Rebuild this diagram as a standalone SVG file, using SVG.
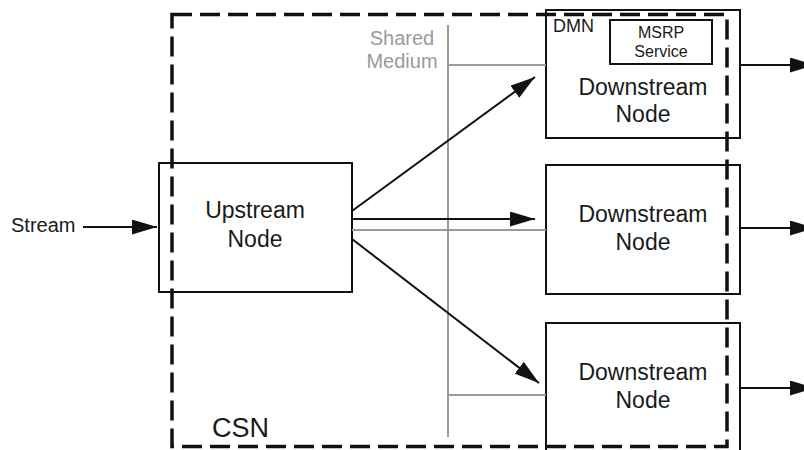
<svg xmlns="http://www.w3.org/2000/svg" width="804" height="450" viewBox="0 0 804 450">
  <style>
    text { font-family: "Liberation Sans", Arial, sans-serif; fill: #1a1a1a; }
    .box { fill: none; stroke: #111; stroke-width: 2; }
    .lbl { font-size: 23px; text-anchor: middle; }
    .grey { stroke: #9a9a9a; stroke-width: 2; fill: none; }
    .greytxt { fill: #9a9a9a; font-size: 20px; text-anchor: middle; }
    .arrow { stroke: #111; stroke-width: 2; fill: none; marker-end: url(#ah); }
    .csn { fill: none; stroke: #111; stroke-width: 3.5; stroke-dasharray: 20 8; }
  </style>
  <defs>
    <marker id="ah" markerUnits="userSpaceOnUse" markerWidth="25" markerHeight="15" refX="25" refY="7.5" orient="auto" viewBox="0 0 25 15">
      <path d="M0,0 L25,7.5 L0,15 z" fill="#111"/>
    </marker>
  </defs>

  <g id="shared-medium">
    <line class="grey" x1="448" y1="25" x2="448" y2="437"/>
    <text class="greytxt" x="402" y="45">Shared</text>
    <text class="greytxt" x="402" y="68">Medium</text>
  </g>

  <g id="stream">
    <text x="11" y="232" font-size="20">Stream</text>
  </g>

  <g id="upstream">
    <rect class="box" x="159" y="163" width="193" height="129"/>
    <text class="lbl" x="255" y="218">Upstream</text>
    <text class="lbl" x="255" y="247">Node</text>
  </g>

  <g id="dmn">
    <rect class="box" x="546" y="10" width="194" height="128"/>
    <text x="553" y="32" font-size="18">DMN</text>
    <text class="lbl" x="643" y="95">Downstream</text>
    <text class="lbl" x="643" y="122">Node</text>
    <g id="msrp">
      <rect class="box" x="610" y="20" width="102" height="44"/>
      <text x="661" y="38" font-size="16" text-anchor="middle">MSRP</text>
      <text x="661" y="57" font-size="16" text-anchor="middle">Service</text>
    </g>
  </g>

  <g id="downstream2">
    <rect class="box" x="546" y="165" width="194" height="129"/>
    <text class="lbl" x="643" y="222">Downstream</text>
    <text class="lbl" x="643" y="250">Node</text>
  </g>

  <g id="downstream3">
    <rect class="box" x="546" y="323" width="194" height="140"/>
    <text class="lbl" x="643" y="380">Downstream</text>
    <text class="lbl" x="643" y="408">Node</text>
  </g>

  <g id="csn">
    <rect class="csn" x="172" y="14.5" width="555" height="432"/>
    <text x="212" y="437" font-size="27">CSN</text>
  </g>

  <g id="connectors">
    <line class="grey" x1="448" y1="65" x2="546" y2="65"/>
    <line class="grey" x1="352" y1="230" x2="546" y2="230"/>
    <line class="grey" x1="448" y1="395" x2="546" y2="395"/>
    <line class="arrow" x1="83" y1="227" x2="157" y2="227"/>
    <line class="arrow" x1="352" y1="211" x2="535" y2="77"/>
    <line class="arrow" x1="352" y1="219" x2="535" y2="219"/>
    <line class="arrow" x1="352" y1="239" x2="539" y2="383"/>
    <line class="arrow" x1="740" y1="65" x2="815" y2="65"/>
    <line class="arrow" x1="740" y1="228" x2="815" y2="228"/>
    <line class="arrow" x1="740" y1="388" x2="815" y2="388"/>
  </g>
</svg>
